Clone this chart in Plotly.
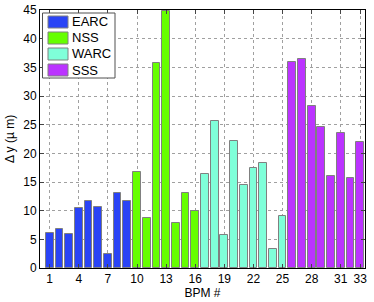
import plotly.graph_objects as go

bpm = list(range(1, 34))
earc_x = list(range(1, 10))
earc_y = [6.1, 6.8, 5.9, 10.4, 11.7, 10.6, 2.4, 13.1, 11.7]
nss_x = list(range(10, 17))
nss_y = [16.7, 8.8, 35.8, 44.8, 7.9, 13.1, 9.9]
warc_x = list(range(17, 26))
warc_y = [16.4, 25.6, 5.7, 22.1, 14.5, 17.5, 18.3, 3.4, 9.1]
sss_x = list(range(26, 34))
sss_y = [35.9, 36.4, 28.2, 24.6, 16.1, 23.6, 15.7, 21.9]

groups = ["EARC", "NSS", "WARC", "SSS"]
colors = ["#2a44f6", "#66ff00", "#7fffd9", "#bb33ff"]
xtick_vals = [1, 4, 7, 10, 13, 16, 19, 22, 25, 28, 31, 33]
ytick_vals = [0, 5, 10, 15, 20, 25, 30, 35, 40, 45]

font = "Liberation Sans, Arial, Helvetica, sans-serif"

fig = go.Figure()
for name, xs, ys, c in zip(groups, [earc_x, nss_x, warc_x, sss_x],
                           [earc_y, nss_y, warc_y, sss_y], colors):
    fig.add_trace(go.Bar(x=xs, y=ys, name=name, width=0.8,
                         marker=dict(color=c, line=dict(color="#808080", width=1)),
                         showlegend=False))

fig.update_layout(
    width=374, height=302,
    margin=dict(l=40, r=9, t=10, b=34),
    paper_bgcolor="white", plot_bgcolor="white",
    font=dict(family=font, size=12, color="black"),
    bargap=0,
)
fig.update_xaxes(range=[0, 33.5], tickvals=xtick_vals, ticks="inside", ticklen=4,
                 showline=True, linecolor="black", linewidth=1, mirror="ticks",
                 showgrid=True, gridcolor="#a0a0a0", griddash="dot", gridwidth=1,
                 zeroline=False, automargin=False, tickfont=dict(size=12),
                 title=dict(text="BPM #", standoff=0, font=dict(size=12)))
fig.update_yaxes(range=[0, 45], tickvals=ytick_vals, ticks="inside", ticklen=4,
                 showline=True, linecolor="black", linewidth=1, mirror="ticks",
                 showgrid=True, gridcolor="#a0a0a0", griddash="dot", gridwidth=1,
                 zeroline=False, automargin=False, tickfont=dict(size=12),
                 title=dict(text="Δ y (µ m)", standoff=6, font=dict(size=12)))

# custom legend box (paper coordinates)
pw = 374 - 40 - 9
ph = 302 - 10 - 34
def px(x):
    return (x - 40) / pw
def py(y):
    return 1 - (y - 10) / ph

fig.add_shape(type="rect", xref="paper", yref="paper",
              x0=px(42.5), x1=px(115), y0=py(78), y1=py(13),
              fillcolor="white", line=dict(color="#505050", width=1), layer="above")
row_h = 16
for i, (name, c) in enumerate(zip(groups, colors)):
    top = 16 + i * row_h
    fig.add_shape(type="rect", xref="paper", yref="paper",
                  x0=px(48), x1=px(68), y0=py(top + 12), y1=py(top),
                  fillcolor=c, line=dict(color="#808080", width=1), layer="above")
    fig.add_annotation(xref="paper", yref="paper", x=px(70), y=py(top + 6),
                       text=name, showarrow=False, xanchor="left", yanchor="middle",
                       font=dict(size=13, family=font, color="black"))

fig.write_html("out.html", config={"displayModeBar": False},
               post_script="document.body.style.margin='0';")
